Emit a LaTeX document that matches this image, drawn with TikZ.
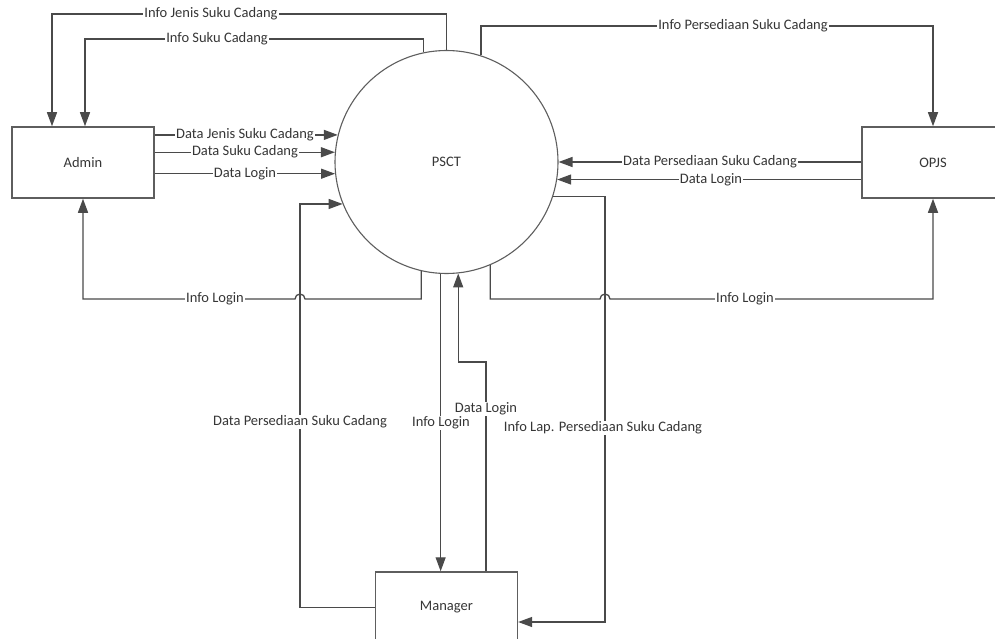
\documentclass[tikz,border=0pt]{standalone}
\usepackage{fontspec}
\setmainfont{Carlito}
\usetikzlibrary{arrows.meta}
\definecolor{ln}{HTML}{4A4A4A}
\definecolor{bx}{HTML}{5E5E5E}
\definecolor{tx}{HTML}{363636}
\tikzset{
  entity/.style={draw=bx, line width=1.5pt, minimum width=142pt, minimum height=71pt, inner sep=0pt, font=\fontsize{14.5}{16}\selectfont, text=tx},
  proc/.style={circle, draw=bx, line width=1.1pt, minimum size=223pt, inner sep=0pt, font=\fontsize{14.5}{16}\selectfont, text=tx},
  arr/.style={draw=ln, line width=1.3pt, -{Triangle[length=14pt,width=10pt]}},
  lbl/.style={fill=white, inner sep=1pt, font=\fontsize{14.5}{16}\selectfont, text=tx}
}
\begin{document}
\begin{tikzpicture}[x=1pt,y=-1pt]
\useasboundingbox (0,0) rectangle (995,639);
\clip (0,0) rectangle (995,639);
\fill[white] (0,0) rectangle (995,639);

% nodes
\node[proc] (P) at (446.5,162) {PSCT};
\node[entity] (A) at (83,162.5) {Admin};
\node[entity] (O) at (933,162.5) {OPJS};
\node[entity] (M) at (446.4,607.5) {Manager};

% helper coordinates
\coordinate (ij) at (52,14);
\coordinate (is) at (85,39);
\coordinate (ip) at (933,26);
\coordinate (hl) at (0,299);
\coordinate (dpL) at (300,0);
\coordinate (dlx) at (486,362);
\coordinate (ilx) at (605,622);

% top connectors
\draw[arr] (P.90) |- (ij) -- (ij |- A.north);
\draw[arr] (P.102) |- (is) -- (is |- A.north);
\draw[arr] (P.72) |- (ip) -- (O.north);

% Admin -> PSCT
\draw[arr] (A.east |- P.166) -- (P.166);
\draw[arr] (A.east |- P.175) -- (P.175);
\draw[arr] (A.east |- P.186) -- (P.186);

% OPJS -> PSCT
\draw[arr] (O.west |- P.0) -- (P.0);
\draw[arr] (O.west |- P.351) -- (P.351);

% Info Login to Admin (with hop)
\draw[arr] (P.257) -- (P.257 |- hl) -- (305,299) arc[start angle=0,end angle=-180,radius=5] -- (A.south |- hl) -- (A.south);
% Info Login to OPJS (with hop)
\draw[arr] (P.293) -- (P.293 |- hl) -- (600,299) arc[start angle=180,end angle=360,radius=5] -- (O.south |- hl) -- (O.south);

% Manager connections
\draw[arr] (M.west) -| (dpL |- P.202) -- (P.202);
\draw[arr] (P.267) -- (P.267 |- M.north);
\draw[arr] (dlx |- M.north) -- (dlx) -| (P.276);
\draw[arr] (P.342) -| (ilx) -- (M.east |- ilx);

% labels
\node[lbl] (l1) at (211,14) {Info Jenis Suku Cadang};
\node[lbl] (l2) at (217,39) {Info Suku Cadang};
\node[lbl] (l3) at (743,26) {Info Persediaan Suku Cadang};
\node[lbl] (l4) at (245,135) {Data Jenis Suku Cadang};
\node[lbl] (l5) at (245,152) {Data Suku Cadang};
\node[lbl] (l6) at (245,173.6) {Data Login};
\node[lbl] (l7) at (710,162) {Data Persediaan Suku Cadang};
\node[lbl] (l8) at (711,179.4) {Data Login};
\node[lbl] (l9) at (215,299) {Info Login};
\node[lbl] (l10) at (745,299) {Info Login};
\node[lbl] (l11) at (300,422) {Data Persediaan Suku Cadang};
\node[lbl] (l12) at (441,423) {Info Login};
\node[lbl] (l13) at (486,409) {Data Login};
\node[lbl] (l14) at (603,428) {Info Lap. Persediaan Suku Cadang};
\end{tikzpicture}
\end{document}
